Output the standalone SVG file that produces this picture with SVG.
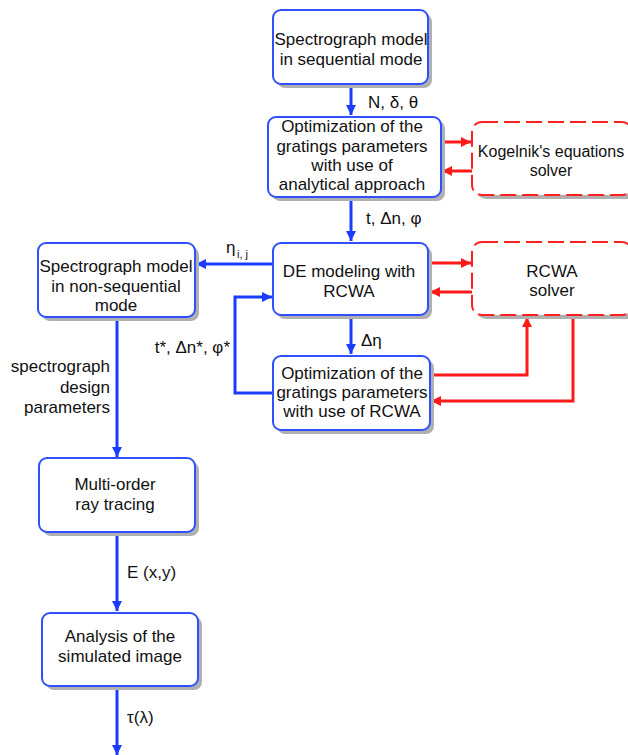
<svg xmlns="http://www.w3.org/2000/svg" width="628" height="755" viewBox="0 0 628 755">
<defs>
<marker id="ab" viewBox="0 0 10 10" refX="10" refY="5" markerWidth="10" markerHeight="10" markerUnits="userSpaceOnUse" orient="auto"><path d="M0,0 L10,5 L0,10 z" fill="#1a3cff"/></marker>
<marker id="ar" viewBox="0 0 10 10" refX="10" refY="5" markerWidth="10" markerHeight="10" markerUnits="userSpaceOnUse" orient="auto"><path d="M0,0 L10,5 L0,10 z" fill="#ff1a1a"/></marker>
</defs>
<style>
text{font-family:"Liberation Sans",Arial,sans-serif;font-size:17px;fill:#111}
.c{text-anchor:middle}
.r{text-anchor:end}
.box{fill:#fff;stroke:#3050ff;stroke-width:2}
.sh{fill:#b0b0b0}
.dbox{fill:#fff;stroke:#ff2020;stroke-width:2;stroke-dasharray:16,6}
.bl{fill:none;stroke:#1a3cff;stroke-width:3}
.rd{fill:none;stroke:#ff1a1a;stroke-width:3}
</style>
<rect width="628" height="755" fill="#fff"/>
<g id="connectors">
<path class="bl" d="M351,84 V115" marker-end="url(#ab)"/>
<path class="bl" d="M351,197 V241" marker-end="url(#ab)"/>
<path class="bl" d="M351,315 V354" marker-end="url(#ab)"/>
<path class="bl" d="M273,264 H196" marker-end="url(#ab)"/>
<path class="bl" d="M273,393 H235 V297 H272" marker-end="url(#ab)"/>
<path class="bl" d="M117,317 V457" marker-end="url(#ab)"/>
<path class="bl" d="M117,532 V611" marker-end="url(#ab)"/>
<path class="bl" d="M117,686 V755" marker-end="url(#ab)"/>
<path class="rd" d="M441,142 H471" marker-end="url(#ar)"/>
<path class="rd" d="M472,171 H442" marker-end="url(#ar)"/>
<path class="rd" d="M429,263 H471" marker-end="url(#ar)"/>
<path class="rd" d="M472,292 H430" marker-end="url(#ar)"/>
<path class="rd" d="M430,375 H527 V317" marker-end="url(#ar)"/>
<path class="rd" d="M573,315 V401 H431" marker-end="url(#ar)"/>
<text x="368" y="108">N, δ, θ</text>
<text x="366" y="224">t, Δn, φ</text>
<text x="361" y="346">Δη</text>
<text x="226" y="253">η</text>
<text x="237" y="258" style="font-size:11px">i, j</text>
<text x="230" y="353" class="r">t*, Δn*, φ*</text>
<text x="110" y="372" class="r">spectrograph</text>
<text x="110" y="393" class="r">design</text>
<text x="110" y="413" class="r">parameters</text>
<text x="127" y="578">E (x,y)</text>
<text x="127" y="723">τ(λ)</text>
</g>
<g id="n1">
<rect class="sh" x="277" y="14" width="155" height="74" rx="8"/>
<rect class="box" x="273" y="10" width="155" height="74" rx="8"/>
<text class="c" x="351" y="45">Spectrograph model</text>
<text class="c" x="351" y="65">in sequential mode</text>
</g>
<g id="n2">
<rect class="sh" x="272" y="121" width="173" height="80" rx="8"/>
<rect class="box" x="268" y="117" width="173" height="80" rx="8"/>
<text class="c" x="352" y="132">Optimization of the</text>
<text class="c" x="352" y="152">gratings parameters</text>
<text class="c" x="352" y="171">with use of</text>
<text class="c" x="352" y="190">analytical approach</text>
</g>
<g id="kogelnik">
<rect class="sh" x="476" y="126" width="160" height="73" rx="10"/>
<rect class="dbox" x="472" y="122" width="160" height="73" rx="10"/>
<text class="c" x="551" y="157" style="font-size:16px">Kogelnik's equations</text>
<text class="c" x="551" y="176" style="font-size:16px">solver</text>
</g>
<g id="n3">
<rect class="sh" x="277" y="247" width="155" height="72" rx="8"/>
<rect class="box" x="273" y="243" width="155" height="72" rx="8"/>
<text class="c" x="349" y="277">DE modeling with</text>
<text class="c" x="349" y="297">RCWA</text>
</g>
<g id="rcwa">
<rect class="sh" x="476" y="246" width="160" height="73" rx="10"/>
<rect class="dbox" x="472" y="242" width="160" height="73" rx="10"/>
<text class="c" x="552" y="277">RCWA</text>
<text class="c" x="552" y="296">solver</text>
</g>
<g id="n4">
<rect class="sh" x="277" y="360" width="157" height="74" rx="8"/>
<rect class="box" x="273" y="356" width="157" height="74" rx="8"/>
<text class="c" x="352" y="379">Optimization of the</text>
<text class="c" x="352" y="398">gratings parameters</text>
<text class="c" x="352" y="417">with use of RCWA</text>
</g>
<g id="n5">
<rect class="sh" x="42" y="247" width="157" height="74" rx="8"/>
<rect class="box" x="38" y="243" width="157" height="74" rx="8"/>
<text class="c" x="116" y="272">Spectrograph model</text>
<text class="c" x="116" y="292">in non-sequential</text>
<text class="c" x="116" y="311">mode</text>
</g>
<g id="n6">
<rect class="sh" x="43" y="462" width="156" height="74" rx="8"/>
<rect class="box" x="39" y="458" width="156" height="74" rx="8"/>
<text class="c" x="115" y="490">Multi-order</text>
<text class="c" x="115" y="510">ray tracing</text>
</g>
<g id="n7">
<rect class="sh" x="46" y="617" width="156" height="73" rx="8"/>
<rect class="box" x="42" y="613" width="156" height="73" rx="8"/>
<text class="c" x="120" y="642">Analysis of the</text>
<text class="c" x="120" y="662">simulated image</text>
</g>
</svg>
